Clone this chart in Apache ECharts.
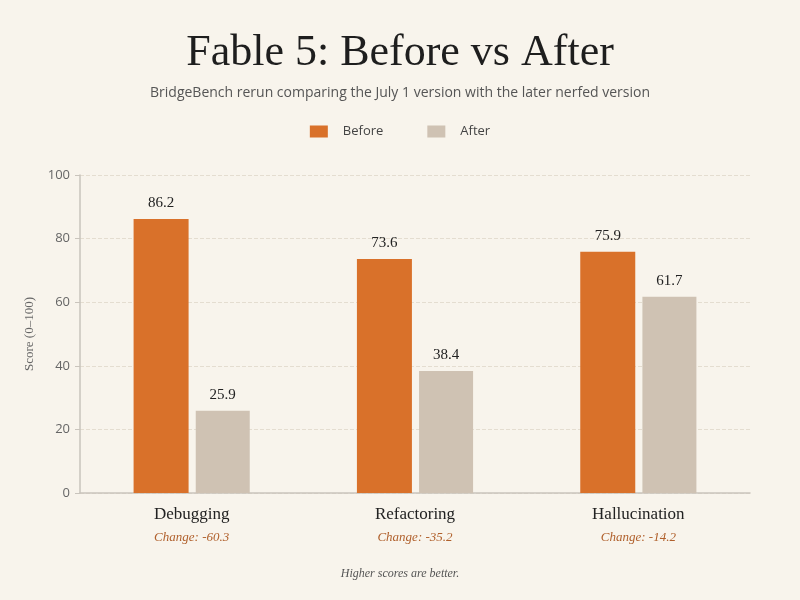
<!DOCTYPE html>
<html><head><meta charset="utf-8">
<script src="https://cdn.jsdelivr.net/npm/echarts@6/dist/echarts.min.js"></script>
<style>html,body{margin:0;padding:0;background:#f8f4ec;}#c{width:800px;height:600px;}</style>
</head><body><div id="c"></div>
<script>
const categories = ['Debugging', 'Refactoring', 'Hallucination'];
const beforeValues = [86.2, 73.6, 75.9];
const afterValues = [25.9, 38.4, 61.7];
const yTicks = [0, 20, 40, 60, 80, 100];

const changes = categories.map((c, i) => (afterValues[i] - beforeValues[i]).toFixed(1));
const serif = '"Liberation Serif", "DejaVu Serif", serif';
const sans = '"Open Sans", "Noto Sans", sans-serif';

const chart = echarts.init(document.getElementById('c'));
chart.setOption({
  backgroundColor: '#f8f4ec',
  animation: false,
  title: [
    { text: 'Fable 5: Before vs After', left: 'center', top: 26,
      textStyle: { fontFamily: serif, fontSize: 44, fontWeight: 'normal', color: '#1e1e1e' } },
    { text: 'BridgeBench rerun comparing the July 1 version with the later nerfed version', left: 'center', top: 81,
      textStyle: { fontFamily: sans, fontSize: 14, fontWeight: 'normal', color: '#555' } },
    { text: 'Higher scores are better.', left: 'center', top: 563,
      textStyle: { fontFamily: serif, fontSize: 12, fontStyle: 'italic', fontWeight: 'normal', color: '#555' } }
  ],
  legend: {
    top: 120, left: 'center', itemWidth: 18, itemHeight: 12, itemGap: 44,
    icon: 'rect',
    textStyle: { fontFamily: sans, fontSize: 13, color: '#444', padding: [0, 0, 0, 10] },
    data: ['Before', 'After']
  },
  grid: { left: 80, right: 50, top: 175, bottom: 107 },
  xAxis: {
    type: 'category', data: categories,
    axisTick: { show: false },
    axisLine: { lineStyle: { color: '#c9c4bc', width: 1.5 } },
    axisLabel: {
      margin: 9,
      formatter: (v, i) => '{n|' + v + '}\n{c|Change: ' + changes[i] + '}',
      rich: {
        n: { fontFamily: serif, fontSize: 17, color: '#222', lineHeight: 26 },
        c: { fontFamily: serif, fontSize: 13, fontStyle: 'italic', color: '#b0602c', lineHeight: 20 }
      }
    }
  },
  yAxis: {
    type: 'value', min: 0, max: 100, interval: 20,
    name: 'Score (0–100)', nameLocation: 'middle', nameGap: 44, nameRotate: 90,
    nameTextStyle: { fontFamily: serif, fontSize: 13, color: '#666' },
    axisLine: { show: true, lineStyle: { color: '#c9c4bc', width: 1.5 } },
    axisTick: { show: true, length: 5, lineStyle: { color: '#c9c4bc' } },
    axisLabel: { fontFamily: sans, fontSize: 13, color: '#666', margin: 10,
      formatter: v => yTicks.includes(v) ? String(v) : '' },
    splitLine: { lineStyle: { color: '#e4ddd0', type: 'dashed' } }
  },
  series: [
    { name: 'Before', type: 'bar', data: beforeValues, barWidth: 55, barGap: '13%',
      itemStyle: { color: '#d9712a' },
      label: { show: true, position: 'top', distance: 8, fontFamily: serif, fontSize: 15, color: '#222' } },
    { name: 'After', type: 'bar', data: afterValues, barWidth: 54,
      itemStyle: { color: '#cfc2b3' },
      label: { show: true, position: 'top', distance: 8, fontFamily: serif, fontSize: 15, color: '#222' } }
  ]
});
</script></body></html>
